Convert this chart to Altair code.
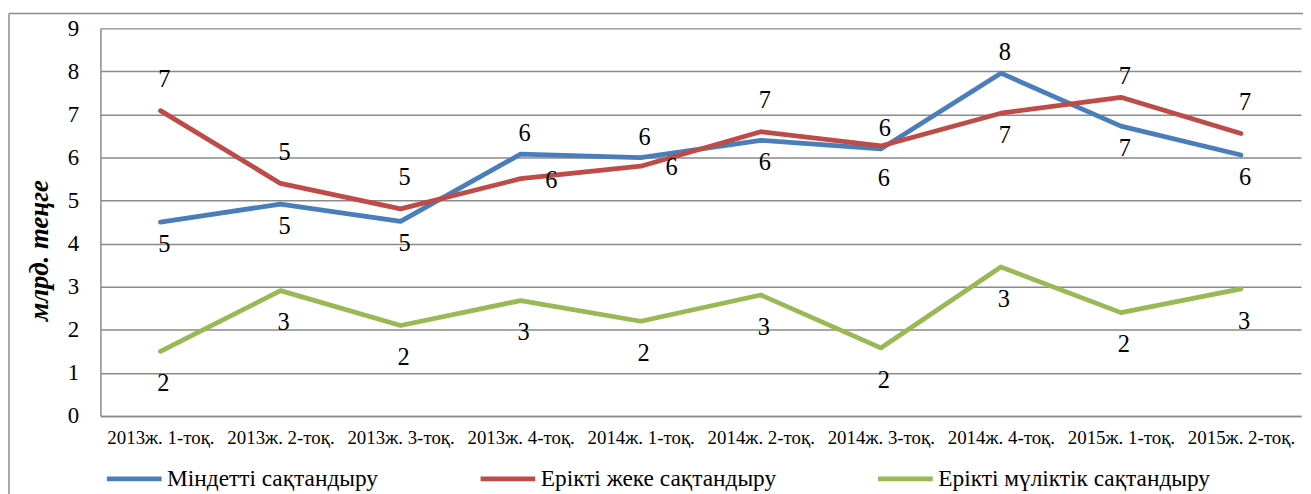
import altair as alt
import pandas as pd

categories = [
    "2013ж. 1-тоқ.", "2013ж. 2-тоқ.", "2013ж. 3-тоқ.", "2013ж. 4-тоқ.",
    "2014ж. 1-тоқ.", "2014ж. 2-тоқ.", "2014ж. 3-тоқ.", "2014ж. 4-тоқ.",
    "2015ж. 1-тоқ.", "2015ж. 2-тоқ.",
]
mandatory = [4.50, 4.92, 4.52, 6.08, 6.00, 6.40, 6.20, 7.96, 6.73, 6.06]
voluntary_personal = [7.09, 5.40, 4.81, 5.51, 5.80, 6.60, 6.27, 7.03, 7.40, 6.56]
voluntary_property = [1.50, 2.91, 2.10, 2.68, 2.20, 2.81, 1.58, 3.46, 2.40, 2.95]

series_names = ["Міндетті сақтандыру", "Ерікті жеке сақтандыру", "Ерікті мүліктік сақтандыру"]
series_colors = ["#4A7EBB", "#BE4B48", "#98B954"]

# where each data label sits relative to its point
mandatory_label_pos = ["below", "below", "below", "above", "above", "below", "above", "above", "below", "below"]
personal_label_pos = ["high", "high", "high", "right", "right", "high", "low", "below", "above", "high"]
property_label_pos = ["low", "low", "low", "low", "low", "low", "low", "low", "low", "low"]

label_offsets = {
    "above": (4, -20),
    "high": (4, -31),
    "below": (4, 23),
    "low": (3, 33),
    "right": (31, 2),
}

rows = []
for name, vals, pos in zip(series_names,
                           [mandatory, voluntary_personal, voluntary_property],
                           [mandatory_label_pos, personal_label_pos, property_label_pos]):
    for c, v, p in zip(categories, vals, pos):
        rows.append({"category": c, "series": name, "value": v, "pos": p})
df = pd.DataFrame(rows)

FONT = "Times New Roman, Liberation Serif, serif"
GRID = "#8A8A8A"

x_enc = alt.X("category:N", sort=categories,
              axis=alt.Axis(title=None, labelAngle=0, labelFont=FONT, labelFontSize=19,
                            labelColor="#000000", ticks=False, labelPadding=13,
                            domainColor=GRID, domainWidth=1.5, grid=False))
y_enc = alt.Y("value:Q",
              scale=alt.Scale(domain=[0, 9], nice=False, zero=True),
              axis=alt.Axis(values=list(range(10)), title="млрд. теңге",
                            titleFont=FONT, titleFontSize=27, titleFontWeight="bold",
                            titleFontStyle="italic", titleColor="#000000",
                            titleAngle=270, titleX=-61, titleY=223,
                            titleAlign="center", titleBaseline="middle",
                            labelFont=FONT, labelFontSize=23, labelColor="#000000",
                            ticks=False, labelPadding=22, domainColor=GRID,
                            domainWidth=1.5, gridColor=GRID, gridWidth=1.5))

base = alt.Chart(df)

lines = base.mark_line(strokeWidth=4.8, strokeCap="round", strokeJoin="round").encode(
    x=x_enc,
    y=y_enc,
    color=alt.Color("series:N",
                    scale=alt.Scale(domain=series_names, range=series_colors),
                    legend=alt.Legend(title=None, orient="none", direction="horizontal",
                                      legendX=4, legendY=423, symbolType="stroke",
                                      symbolSize=3025, symbolStrokeWidth=4.8,
                                      labelFont=FONT, labelFontSize=23.5,
                                      labelColor="#000000", labelOffset=3,
                                      columnPadding=92, labelLimit=0, padding=0)),
    detail="series:N",
)

text_layers = []
for key, (dx, dy) in label_offsets.items():
    text_layers.append(
        base.mark_text(dx=dx, dy=dy, font=FONT, fontSize=24.5, color="#000000",
                       baseline="middle", align="center")
        .encode(x=alt.X("category:N", sort=categories),
                y=alt.Y("value:Q"),
                text=alt.Text("value:Q", format=".0f"))
        .transform_filter(alt.datum.pos == key)
    )

frame_data = alt.Data(values=[{"k": 1}])
frame_left = alt.Chart(frame_data).mark_rule(color="#8C8C8C", strokeWidth=1.5).encode(
    x=alt.value(-92), y=alt.value(-15), y2=alt.value(600))
frame_top = alt.Chart(frame_data).mark_rule(color="#8C8C8C", strokeWidth=1.5).encode(
    x=alt.value(-92), x2=alt.value(1400), y=alt.value(-15))

chart = alt.layer(frame_left, frame_top, lines, *text_layers).properties(
    width=1208, height=390,
    padding={"left": 93, "top": 19, "right": 2, "bottom": 77},
    autosize=alt.AutoSizeParams(type="none"),
    background="#FFFFFF",
).configure_view(stroke=None)

chart.save("out.html", embed_options={"renderer": "svg", "actions": False})
